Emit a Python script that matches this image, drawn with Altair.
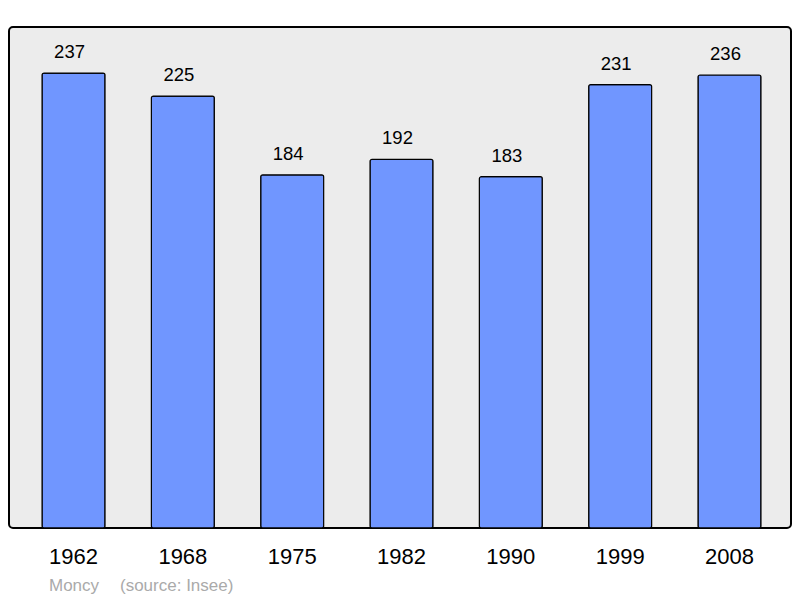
import altair as alt
import pandas as pd

years = ["1962", "1968", "1975", "1982", "1990", "1999", "2008"]
population = [237, 225, 184, 192, 183, 231, 236]
place = "Moncy"
source = "(source: Insee)"

df = pd.DataFrame({"year": years, "pop": population})

FONT = "Liberation Sans"

x = alt.X("year:N", sort=years, title=None,
          scale=alt.Scale(paddingInner=0.424, paddingOuter=0.2885, align=0.524),
          axis=alt.Axis(labelAngle=0, labelFontSize=22, labelFont=FONT, labelColor="#000000",
                        labelBaseline="alphabetic", labelPadding=35, ticks=False, tickSize=0,
                        domain=False, grid=False))
y = alt.Y("pop:Q", title=None, scale=alt.Scale(domain=[0, 261], nice=False), axis=None)

bars = alt.Chart(df).mark_bar(color="#7096ff", stroke="#000000", strokeWidth=1.2,
                              cornerRadius=2).encode(x=x, y=y)
labels = alt.Chart(df).mark_text(font=FONT, fontSize=18.5, dy=-15, dx=-4, baseline="alphabetic",
                                 color="#000000").encode(x=x, y=y, text="pop:Q")

note1 = alt.Chart(pd.DataFrame({"t": [place]})).mark_text(
    font=FONT, fontSize=17, color="#aaaaaa", align="left", baseline="alphabetic"
).encode(x=alt.value(40), y=alt.value(564), text="t:N")
note2 = alt.Chart(pd.DataFrame({"t": [source]})).mark_text(
    font=FONT, fontSize=17, color="#aaaaaa", align="left", baseline="alphabetic"
).encode(x=alt.value(111), y=alt.value(564), text="t:N")

chart = alt.layer(bars, labels, note1, note2).properties(
    width=782, height=501,
    padding={"left": 1, "top": 19, "right": 1, "bottom": 70},
    autosize=alt.AutoSizeParams(type="none"),
    background="#ffffff",
).configure_view(
    fill="#ececec", stroke="#000000", strokeWidth=2, cornerRadius=4
)

chart.save("out.html", embed_options={"renderer": "svg", "actions": False})
